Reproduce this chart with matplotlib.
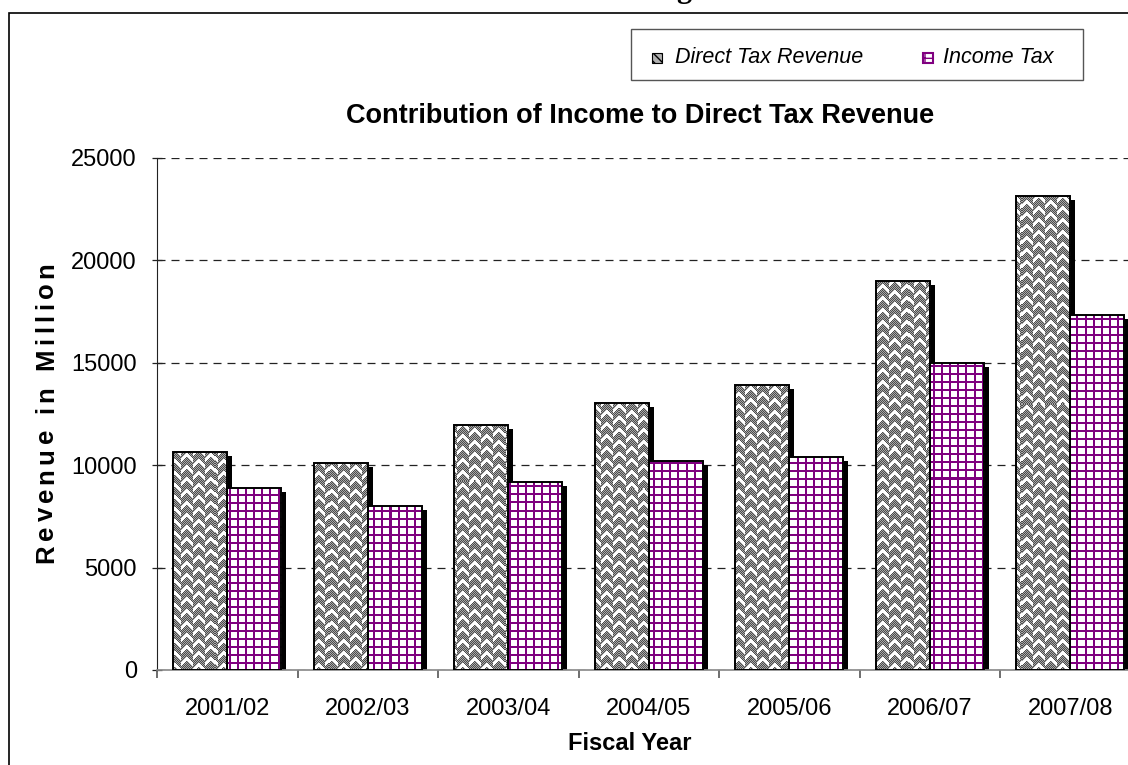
import numpy as np
import matplotlib
matplotlib.use("Agg")
import matplotlib.pyplot as plt
from matplotlib.patches import Rectangle
from matplotlib.transforms import ScaledTranslation
from matplotlib.font_manager import FontProperties

# ---- data -------------------------------------------------------------
years = ["2001/02", "2002/03", "2003/04", "2004/05", "2005/06", "2006/07", "2007/08"]
direct_tax = [10630, 10100, 11980, 13050, 13930, 19000, 23150]
income_tax = [8880, 7990, 9200, 10200, 10400, 15000, 17320]
series_names = ["Direct Tax Revenue", "Income Tax"]
y_ticks = [0, 5000, 10000, 15000, 20000, 25000]

plt.rcParams["font.family"] = ["Liberation Sans", "DejaVu Sans"]

W, H, DPI = 1128, 765, 100
fig = plt.figure(figsize=(W / DPI, H / DPI), dpi=DPI)


def fx(px):
    return px / W


def fy(py):
    return 1 - py / H


# plot area in pixels (runs a little past the right edge of the page)
left, right, top, bottom = 157, 1140.5, 158, 670
ax = fig.add_axes([fx(left), fy(bottom), (right - left) / W, (bottom - top) / H])

AX_W, AX_H = int(round(right - left)), bottom - top
yy, xx = np.mgrid[0:AX_H, 0:AX_W]

# herringbone weave texture for the direct-tax bars
col = xx // 6
lx = xx % 6
shift = ((col // 2) % 2) * 6
up = ((yy + lx + shift) % 12) < 4
down = ((yy + 5 - lx + shift) % 12) < 4
white = np.where(col % 2 == 0, up, down)
checker = (xx + yy) % 2 == 0
base = np.where(checker, 0.30, 0.66)
g = np.where(white, 1.0, base)
weave_tex = np.dstack([g, g, g])

# purple grid texture for the income-tax bars
line = ((xx % 8) < 2) | ((yy % 8) < 2)
grid_tex = np.ones((AX_H, AX_W, 3))
grid_tex[line] = (0.50, 0.0, 0.50)

x = np.arange(len(years)) + 0.5
bw = 0.385
off = bw / 2

# drop shadows
shadow_tr = ax.transData + ScaledTranslation(5 / DPI, -4 / DPI, fig.dpi_scale_trans)
for vals, dx in ((direct_tax, -off), (income_tax, off)):
    sh = ax.bar(x + dx, vals, bw, color="black", linewidth=0, zorder=1.5)
    for p in sh:
        p.set_transform(shadow_tr)

# bars with textured fill
bars_d = ax.bar(x - off, direct_tax, bw, facecolor="none", edgecolor="black",
                linewidth=1.4, zorder=3, label=series_names[0])
bars_i = ax.bar(x + off, income_tax, bw, facecolor="none", edgecolor="black",
                linewidth=1.4, zorder=3, label=series_names[1])
for bars, tex in ((bars_d, weave_tex), (bars_i, grid_tex)):
    for b in bars:
        im = ax.imshow(tex, extent=(0, 1, 0, 1), transform=ax.transAxes,
                       interpolation="nearest", aspect="auto", zorder=2.5)
        im.set_clip_path(b)

ax.set_xlim(0, len(years))
ax.set_ylim(0, 25000)

# axes styling
for s in ("top", "right"):
    ax.spines[s].set_visible(False)
ax.spines["left"].set_color("#222222")
ax.spines["bottom"].set_color("#888888")
ax.spines["bottom"].set_linewidth(1.2)

ax.set_yticks(y_ticks)
ax.tick_params(axis="y", direction="inout", length=7.2, width=0.9, color="#222222",
               pad=10.8, labelsize=17)
ax.set_xticks(np.arange(len(years) + 1))
ax.set_xticklabels([])
ax.set_xticks(x, minor=True)
ax.set_xticklabels(years, minor=True)
ax.tick_params(axis="x", which="major", direction="out", length=6, width=1.2,
               color="#555555")
ax.tick_params(axis="x", which="minor", length=0, pad=20, labelsize=17)

ax.set_axisbelow(True)
ax.yaxis.grid(True, color="#222222", linewidth=0.9, linestyle=(0, (6.4, 4.8)))

# titles
fig.text(fx(640), fy(123), "Contribution of Income to Direct Tax Revenue",
         ha="center", va="baseline", fontsize=19.5, fontweight="bold")
fig.text(fx(629.5), fy(750), "Fiscal Year", ha="center", va="baseline",
         fontsize=17, fontweight="bold")
fig.text(fx(684), fy(-3), "g", ha="center", va="baseline", fontsize=22,
         fontweight="bold", family=["Liberation Serif", "DejaVu Serif"])

# letter-spaced vertical axis title
ylab = "Revenue in Million"
prop = FontProperties(family=["Liberation Sans", "DejaVu Sans"], weight="bold", size=18.5)
renderer = fig.canvas.get_renderer()


def text_w(s):
    return renderer.get_text_width_height_descent(s, prop, ismath=False)[0]


widths = []
for ch in ylab:
    if ch == " ":
        widths.append(text_w("a a") - text_w("aa"))
    else:
        widths.append(text_w(ch))
span_start, span_end = 563, 262
tracking = ((span_start - span_end) - sum(widths)) / (len(ylab) - 1)
pos = span_start
for ch, w in zip(ylab, widths):
    if ch != " ":
        fig.text(fx(53), fy(pos), ch, rotation=90, rotation_mode="anchor",
                 ha="left", va="baseline", fontproperties=prop)
    pos -= w + tracking

# legend box
fig.add_artist(Rectangle((fx(631), fy(80)), (1083 - 631) / W, (80 - 29) / H,
                         transform=fig.transFigure, fill=False,
                         edgecolor="#555555", linewidth=1.0))
sq = 10
fig.add_artist(Rectangle((fx(652), fy(63)), sq / W, sq / H, transform=fig.transFigure,
                         facecolor="#b0b0b0", edgecolor="black", hatch="\\\\\\\\",
                         linewidth=0.8))
fig.add_artist(Rectangle((fx(923), fy(63)), sq / W, sq / H, transform=fig.transFigure,
                         facecolor="white", edgecolor="#800080", hatch="+",
                         linewidth=1.5))
fig.text(fx(675), fy(63), series_names[0], ha="left", va="baseline",
         fontsize=15.5, style="italic")
fig.text(fx(943), fy(63), series_names[1], ha="left", va="baseline",
         fontsize=15.5, style="italic")

# page frame
fig.add_artist(Rectangle((fx(9), -0.1), 1.2, fy(13) + 0.1, transform=fig.transFigure,
                         fill=False, edgecolor="black", linewidth=1.2))

fig.savefig("out.png", dpi=DPI)
